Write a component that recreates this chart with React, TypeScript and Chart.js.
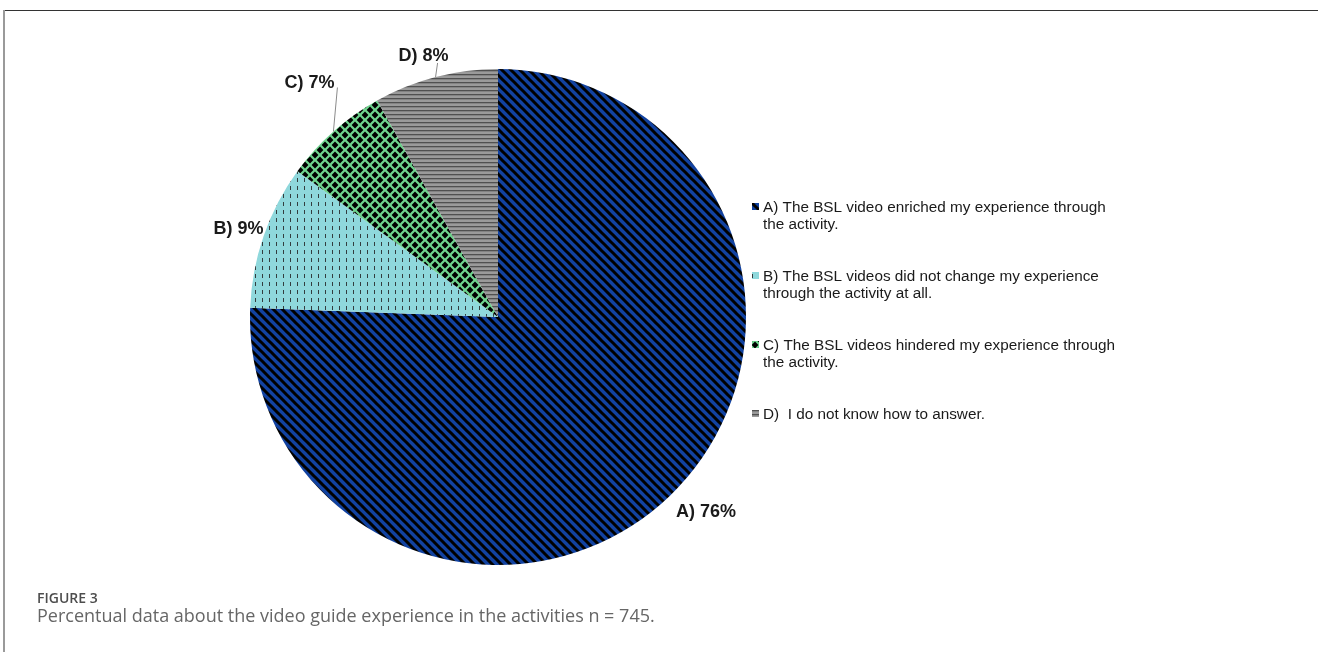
import React, { useEffect, useRef } from "react";
import { Chart, registerables } from "chart.js";

Chart.register(...registerables);

// ---- data ----
const categories = ["A", "B", "C", "D"];
const percentages = [75.6, 9.4, 6.9, 8.1];
const legendLines = [
  ["A) The BSL video enriched my experience through", "the activity."],
  ["B) The BSL videos did not change my experience", "through the activity at all."],
  ["C) The BSL videos hindered my experience through", "the activity."],
  ["D)  I do not know how to answer."],
];
const captionTitle = "FIGURE 3";
const captionText = "Percentual data about the video guide experience in the activities n = 745.";

// ---- styles ----
const W = 1318;
const H = 652;
const labelOffsets = [
  [36, 15],
  [-25, -8],
  [-24, -50],
  [-12, -22],
];
const leaderEnds: (number[] | null)[] = [null, null, [28, 6], [14, 8]];
const legendStyle = { markerX: 752, textX: 763, firstBaseline: 212, itemGap: 69, lineGap: 17 };

function makePattern(kind: string): CanvasPattern | string {
  const c = document.createElement("canvas");
  const ctx = c.getContext("2d");
  if (!ctx) return "#888";
  if (kind === "A") {
    const s = 9;
    c.width = s; c.height = s;
    ctx.fillStyle = "#1242a0";
    ctx.fillRect(0, 0, s, s);
    ctx.strokeStyle = "#000";
    ctx.lineWidth = 3;
    ctx.beginPath();
    for (let k = -1; k <= 1; k++) {
      ctx.moveTo(-2, -2 + s * k);
      ctx.lineTo(s + 2, s + 2 + s * k);
    }
    ctx.stroke();
  } else if (kind === "B") {
    c.width = 7; c.height = 8;
    ctx.fillStyle = "#8fd8dc";
    ctx.fillRect(0, 0, 7, 8);
    ctx.fillStyle = "#333d3e";
    ctx.fillRect(3, 2, 1, 4);
  } else if (kind === "C") {
    const s = 10;
    c.width = s; c.height = s;
    ctx.fillStyle = "#6fd48e";
    ctx.fillRect(0, 0, s, s);
    ctx.fillStyle = "#000";
    const centers = [[s / 2, s / 2], [0, 0], [s, 0], [0, s], [s, s]];
    const r = 3.4;
    for (const [cx, cy] of centers) {
      ctx.beginPath();
      ctx.moveTo(cx, cy - r);
      ctx.lineTo(cx + r, cy);
      ctx.lineTo(cx, cy + r);
      ctx.lineTo(cx - r, cy);
      ctx.closePath();
      ctx.fill();
    }
  } else {
    c.width = 4; c.height = 4;
    ctx.fillStyle = "#9a9a9a";
    ctx.fillRect(0, 0, 4, 4);
    ctx.fillStyle = "#505050";
    ctx.fillRect(0, 2, 4, 1.3);
  }
  const p = ctx.createPattern(c, "repeat");
  return p || "#888";
}

export default function App() {
  const ref = useRef<HTMLCanvasElement | null>(null);

  useEffect(() => {
    const canvas = ref.current;
    if (!canvas) return;
    const patterns = categories.map((c) => makePattern(c));

    const labelPlugin = {
      id: "sliceLabels",
      afterDatasetsDraw(chart: any) {
        const ctx = chart.ctx;
        const meta = chart.getDatasetMeta(0);
        ctx.save();
        meta.data.forEach((arc: any, i: number) => {
          const { x, y, startAngle, endAngle, outerRadius } = arc.getProps(
            ["x", "y", "startAngle", "endAngle", "outerRadius"],
            true
          );
          const mid = (startAngle + endAngle) / 2;
          const ex = x + Math.cos(mid) * outerRadius;
          const ey = y + Math.sin(mid) * outerRadius;
          const lx = ex + labelOffsets[i][0];
          const ly = ey + labelOffsets[i][1];
          const le = leaderEnds[i];
          if (le) {
            ctx.strokeStyle = "#8a8a8a";
            ctx.lineWidth = 1;
            ctx.beginPath();
            ctx.moveTo(ex, ey);
            ctx.lineTo(lx + le[0], ly + le[1]);
            ctx.stroke();
          }
          const v = chart.data.datasets[0].data[i];
          const text = `${chart.data.labels[i]}) ${Math.round(v)}%`;
          ctx.font = "bold 18px 'Liberation Sans', Arial, sans-serif";
          ctx.fillStyle = "#1a1a1a";
          ctx.textAlign = "center";
          ctx.textBaseline = "alphabetic";
          ctx.fillText(text, lx, ly + 6.5);
        });
        ctx.restore();
      },
    };

    const legendPlugin = {
      id: "sideLegend",
      afterDraw(chart: any) {
        const ctx = chart.ctx;
        const bgs = chart.data.datasets[0].backgroundColor;
        ctx.save();
        ctx.font = "15.3px 'Liberation Sans', Arial, sans-serif";
        ctx.textAlign = "left";
        ctx.textBaseline = "alphabetic";
        legendLines.forEach((lines, i) => {
          const base = legendStyle.firstBaseline + i * legendStyle.itemGap;
          ctx.fillStyle = bgs[i];
          ctx.fillRect(legendStyle.markerX, base - 9, 7, 7);
          ctx.fillStyle = "#1a1a1a";
          lines.forEach((ln, j) => {
            ctx.fillText(ln, legendStyle.textX, base + j * legendStyle.lineGap);
          });
        });
        ctx.restore();
      },
    };

    const chart = new Chart(canvas, {
      type: "pie",
      data: {
        labels: categories,
        datasets: [
          {
            data: percentages,
            backgroundColor: patterns as any,
            borderWidth: 0,
          },
        ],
      },
      options: {
        responsive: false,
        animation: false,
        layout: { padding: { left: 250, right: 572, top: 69, bottom: 87 } },
        plugins: {
          legend: { display: false },
          tooltip: { enabled: false },
        },
      },
      plugins: [labelPlugin, legendPlugin],
    });
    return () => chart.destroy();
  }, []);

  return (
    <div
      style={{
        position: "fixed",
        left: 0,
        top: 0,
        width: W,
        height: H,
        background: "#fff",
        overflow: "hidden",
      }}
    >
      <canvas ref={ref} width={W} height={H} style={{ position: "absolute", left: 0, top: 0, width: W, height: H }} />
      <div style={{ position: "absolute", left: 4, top: 10, width: W - 4, height: 1, background: "#333" }} />
      <div style={{ position: "absolute", left: 3, top: 10, width: 2, height: H - 10, background: "#9a9a9a" }} />
      <div
        style={{
          position: "absolute",
          left: 37,
          top: 590.6,
          fontFamily: "'Open Sans', sans-serif",
          fontWeight: 600,
          fontSize: 14,
          lineHeight: "14px",
          color: "#4d4d4d",
          whiteSpace: "nowrap",
        }}
      >
        {captionTitle}
      </div>
      <div
        style={{
          position: "absolute",
          left: 37,
          top: 606,
          fontFamily: "'Open Sans', sans-serif",
          fontWeight: 400,
          fontSize: 18,
          lineHeight: "18px",
          color: "#666",
          whiteSpace: "nowrap",
        }}
      >
        {captionText}
      </div>
    </div>
  );
}
